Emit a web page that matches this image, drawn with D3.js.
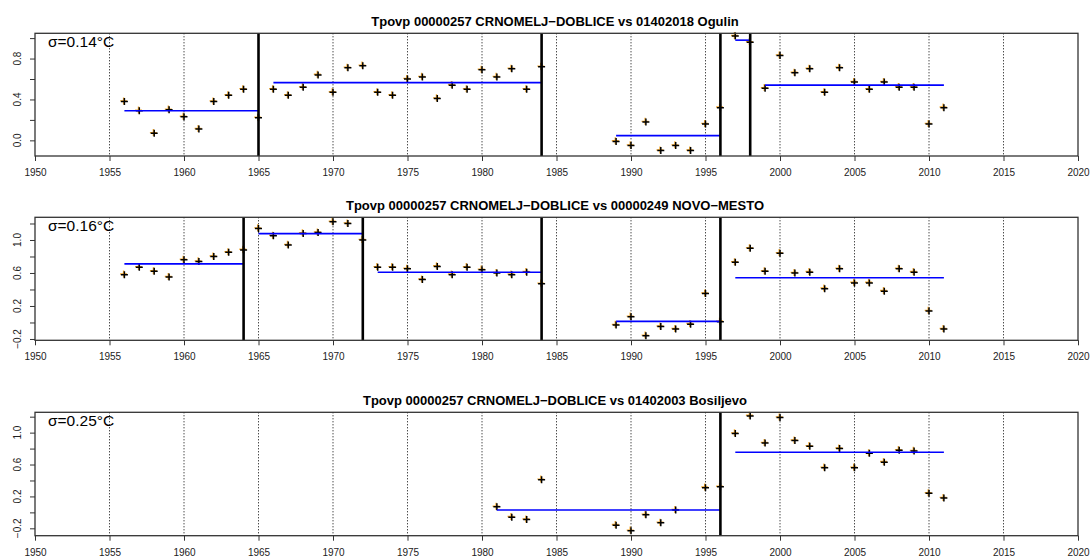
<!DOCTYPE html>
<html>
<head>
<meta charset="utf-8">
<script src="https://cdn.jsdelivr.net/npm/d3@7"></script>
<style>
  body { margin: 0; background: #fff; }
  svg { display: block; font-family: "Liberation Sans", Arial, sans-serif; }
  .axis path, .axis line { stroke: #333; }
</style>
</head>
<body>
<div id="chart"></div>
<script>
// panel titles and residual std
var titles = [
  "Tpovp 00000257 CRNOMELJ\u2212DOBLICE vs 01402018 Ogulin",
  "Tpovp 00000257 CRNOMELJ\u2212DOBLICE vs 00000249 NOVO\u2212MESTO",
  "Tpovp 00000257 CRNOMELJ\u2212DOBLICE vs 01402003 Bosiljevo"
];
var sigmas = ["\u03c3=0.14\u00b0C", "\u03c3=0.16\u00b0C", "\u03c3=0.25\u00b0C"];

var xTicks = [1950, 1955, 1960, 1965, 1970, 1975, 1980, 1985, 1990, 1995, 2000, 2005, 2010, 2015, 2020];

// panel 1 - Ogulin
var years1 = [1956,1957,1958,1959,1960,1961,1962,1963,1964,1965,1966,1967,1968,1969,1970,1971,1972,1973,1974,1975,1976,1977,1978,1979,1980,1981,1982,1983,1984,
              1989,1990,1991,1992,1993,1994,1995,1996,1997,1998,1999,2000,2001,2002,2003,2004,2005,2006,2007,2008,2009,2010,2011];
var values1 = [0.38,0.29,0.07,0.30,0.23,0.11,0.38,0.44,0.50,0.22,0.50,0.44,0.52,0.64,0.47,0.71,0.73,0.47,0.44,0.60,0.62,0.41,0.54,0.50,0.69,0.62,0.70,0.50,0.72,
               -0.01,-0.05,0.18,-0.10,-0.05,-0.10,0.16,0.32,1.02,0.96,0.51,0.83,0.66,0.70,0.47,0.71,0.57,0.50,0.57,0.52,0.52,0.16,0.32];
var breaks1 = [1965, 1984, 1996, 1998];
var means1 = [[1956, 1965, 0.29], [1966, 1984, 0.565], [1989, 1996, 0.046], [1997, 1998, 0.98], [1999, 2011, 0.54]];

// panel 2 - NOVO-MESTO
var years2 = [1956,1957,1958,1959,1960,1961,1962,1963,1964,1965,1966,1967,1968,1969,1970,1971,1972,1973,1974,1975,1976,1977,1978,1979,1980,1981,1982,1983,1984,
              1989,1990,1991,1992,1993,1994,1995,1996,1997,1998,1999,2000,2001,2002,2003,2004,2005,2006,2007,2008,2009,2010,2011];
var values2 = [0.58,0.67,0.62,0.55,0.76,0.74,0.80,0.85,0.88,1.14,1.05,0.94,1.08,1.09,1.22,1.20,1.00,0.67,0.67,0.65,0.52,0.68,0.58,0.67,0.64,0.60,0.58,0.61,0.47,
               -0.03,0.07,-0.16,-0.05,-0.08,-0.02,0.35,0.01,0.73,0.90,0.62,0.84,0.60,0.61,0.41,0.65,0.48,0.48,0.38,0.65,0.61,0.14,-0.08];
var breaks2 = [1964, 1972, 1984, 1996];
var means2 = [[1956, 1964, 0.71], [1965, 1972, 1.077], [1973, 1984, 0.608], [1989, 1996, 0.014], [1997, 2011, 0.543]];

// panel 3 - Bosiljevo
var years3 = [1981,1982,1983,1984,1989,1990,1991,1992,1993,1995,1996,1997,1998,1999,2000,2001,2002,2003,2004,2005,2006,2007,2008,2009,2010,2011];
var values3 = [0.07,-0.06,-0.09,0.41,-0.16,-0.23,-0.03,-0.13,0.03,0.31,0.32,0.99,1.21,0.87,1.19,0.90,0.83,0.56,0.80,0.56,0.74,0.63,0.78,0.77,0.24,0.18];
var breaks3 = [1996];
var means3 = [[1981, 1996, 0.029], [1997, 2011, 0.754]];

var yTicks1 = [0, 0.2, 0.4, 0.6, 0.8, 1.0];
var yLabels1 = [0, 0.4, 0.8];
var yTicks23 = [-0.2, 0, 0.2, 0.4, 0.6, 0.8, 1.0, 1.2];
var yLabels23 = [-0.2, 0.2, 0.6, 1.0];

var W = 1092, H = 558;
var left = 35, right = 1078;

var panels = [
  { top: 33.3, bottom: 156, yDomain: [-0.153, 1.047], years: years1, values: values1, breaks: breaks1, means: means1, ticks: yTicks1, labels: yLabels1 },
  { top: 217.3, bottom: 340.3, yDomain: [-0.216, 1.275], years: years2, values: values2, breaks: breaks2, means: means2, ticks: yTicks23, labels: yLabels23 },
  { top: 412.3, bottom: 535.7, yDomain: [-0.2925, 1.255], years: years3, values: values3, breaks: breaks3, means: means3, ticks: yTicks23, labels: yLabels23 }
];

var svg = d3.select("#chart").append("svg")
            .attr("width", W)
            .attr("height", H);

var x = d3.scaleLinear().domain([1950, 2020]).range([left, right]);

var fmt = function(v) { return d3.format(".1f")(v).replace("-", "\u2212"); };

panels.forEach(function(p, i) {
  var y = d3.scaleLinear().domain(p.yDomain).range([p.bottom, p.top]);
  var g = svg.append("g");

  // title
  g.append("text")
    .attr("x", 555)
    .attr("y", p.top - 7.5)
    .style("text-anchor", "middle")
    .style("font-weight", "bold")
    .style("font-size", "13px")
    .text(titles[i]);

  // dotted grid
  g.selectAll(".grid")
    .data(xTicks.slice(1, -1))
    .enter().append("line")
    .attr("x1", function(d) { return x(d); })
    .attr("x2", function(d) { return x(d); })
    .attr("y1", p.top)
    .attr("y2", p.bottom)
    .attr("stroke", "#000")
    .attr("stroke-width", 1)
    .attr("stroke-dasharray", "1,2");

  // points: orange shadow then black plus
  var pts = p.years.map(function(d, j) { return [d, p.values[j]]; });
  var plus = "M-3.5,0H3.5M0,-3.5V3.5";
  g.selectAll(".sh")
    .data(pts)
    .enter().append("path")
    .attr("d", plus)
    .attr("transform", function(d) { return "translate(" + (x(d[0]) - 0.8) + "," + (y(d[1]) - 0.6) + ")"; })
    .attr("stroke", "#f2a830")
    .attr("stroke-width", 1.4)
    .attr("fill", "none");
  g.selectAll(".pt")
    .data(pts)
    .enter().append("path")
    .attr("d", plus)
    .attr("transform", function(d) { return "translate(" + x(d[0]) + "," + y(d[1]) + ")"; })
    .attr("stroke", "#000")
    .attr("stroke-width", 1.5)
    .attr("fill", "none");

  // segment means
  g.selectAll(".mean")
    .data(p.means)
    .enter().append("line")
    .attr("x1", function(d) { return x(d[0]); })
    .attr("x2", function(d) { return x(d[1]); })
    .attr("y1", function(d) { return y(d[2]); })
    .attr("y2", function(d) { return y(d[2]); })
    .attr("stroke", "#0000ff")
    .attr("stroke-width", 1.6);

  // breaks
  g.selectAll(".brk")
    .data(p.breaks)
    .enter().append("line")
    .attr("x1", function(d) { return x(d); })
    .attr("x2", function(d) { return x(d); })
    .attr("y1", p.top)
    .attr("y2", p.bottom)
    .attr("stroke", "#000")
    .attr("stroke-width", 2.6);

  // sigma
  g.append("text")
    .attr("x", 48)
    .attr("y", p.top + 13.5)
    .style("font-size", "15.5px")
    .text(sigmas[i]);

  // box
  g.append("rect")
    .attr("x", left)
    .attr("y", p.top)
    .attr("width", right - left)
    .attr("height", p.bottom - p.top)
    .attr("fill", "none")
    .attr("stroke", "#333")
    .attr("stroke-width", 1.3);

  // x axis
  var xa = g.append("g")
    .attr("class", "axis")
    .attr("transform", "translate(0," + p.bottom + ")")
    .call(d3.axisBottom(x).tickValues(xTicks).tickFormat(d3.format("d")).tickSize(5).tickPadding(8));
  xa.select(".domain").remove();
  xa.selectAll("text").style("font-size", "10px").attr("fill", "#222");

  // y axis
  var ya = g.append("g")
    .attr("class", "axis")
    .attr("transform", "translate(" + left + ",0)")
    .call(d3.axisLeft(y).tickValues(p.ticks).tickFormat("").tickSize(5));
  ya.select(".domain").remove();

  g.selectAll(".ylab")
    .data(p.labels)
    .enter().append("text")
    .attr("transform", function(d) { return "translate(21," + y(d) + ") rotate(-90)"; })
    .style("text-anchor", "middle")
    .style("font-size", "10px")
    .attr("fill", "#222")
    .text(fmt);
});
</script>
</body>
</html>
